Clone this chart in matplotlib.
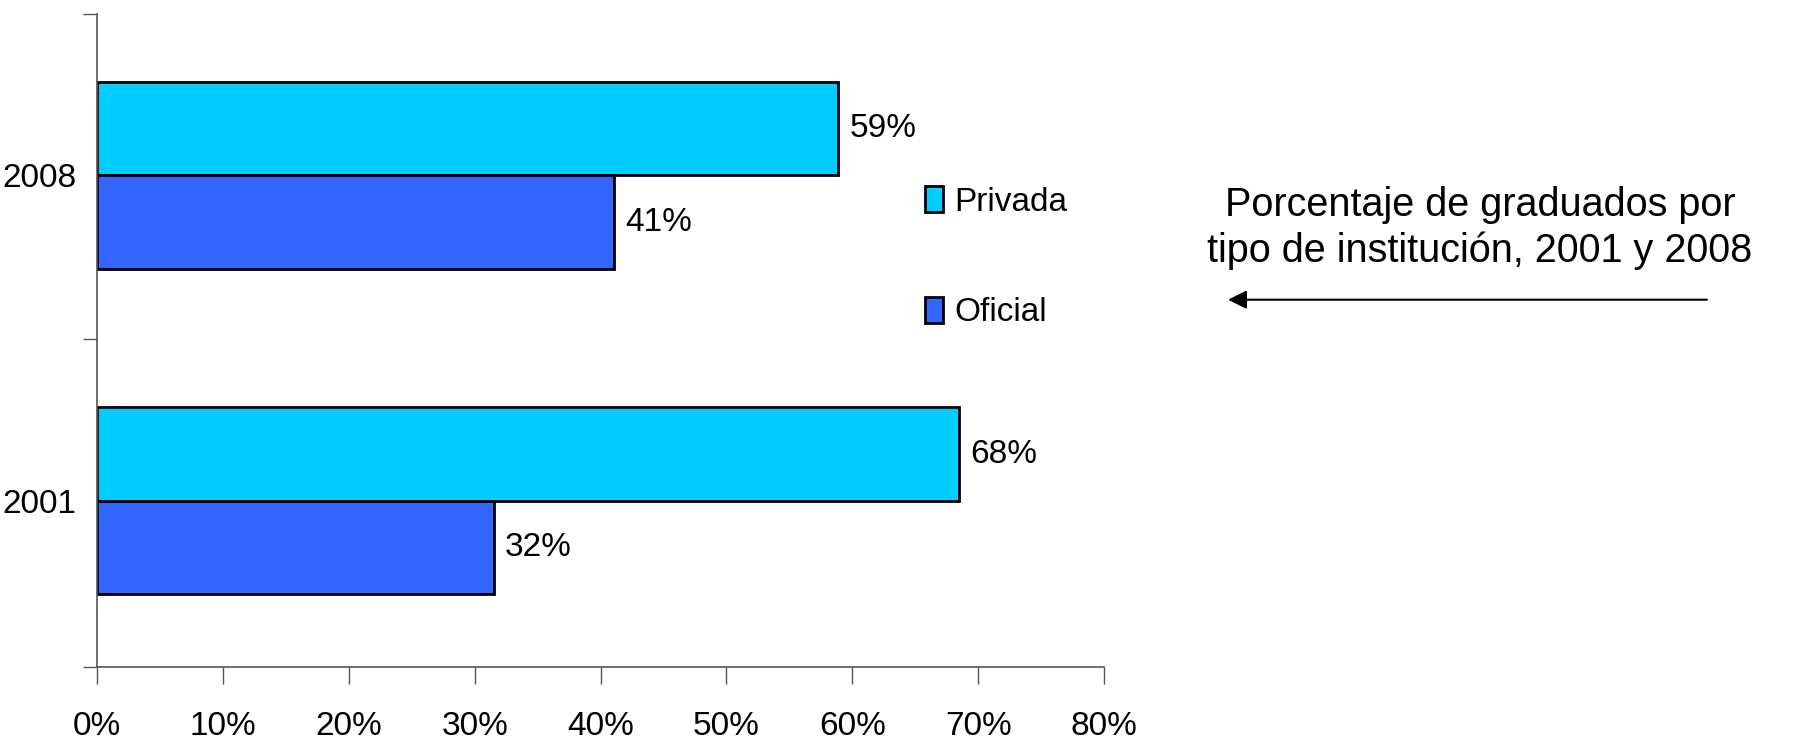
import matplotlib
matplotlib.use("Agg")
import matplotlib.pyplot as plt
from matplotlib.patches import Patch, FancyArrowPatch

anios = ["2001", "2008"]
privada = [68.5, 58.9]
oficial = [31.5, 41.1]
etiq_privada = ["68%", "59%"]
etiq_oficial = ["32%", "41%"]
ticks_x = [0, 10, 20, 30, 40, 50, 60, 70, 80]

fuente = ["Liberation Sans", "DejaVu Sans"]
col_priv = "#00CCFF"
col_ofi = "#3366FF"

fig = plt.figure(figsize=(17.94, 7.40), dpi=100)
ax = fig.add_axes([0.0541, 0.0986, 0.5613, 0.8824])

alto = 0.287
pos = [0, 1]
pos_priv = [p + alto / 2 for p in pos]
pos_ofi = [p - alto / 2 for p in pos]
ax.barh(pos_priv, privada, height=alto, color=col_priv, edgecolor="black", linewidth=2)
ax.barh(pos_ofi, oficial, height=alto, color=col_ofi, edgecolor="black", linewidth=2)

for y, v, t in zip(pos_priv, privada, etiq_privada):
    ax.text(v + 0.9, y, t, va="center", ha="left", fontsize=24, family=fuente)
for y, v, t in zip(pos_ofi, oficial, etiq_oficial):
    ax.text(v + 0.9, y, t, va="center", ha="left", fontsize=24, family=fuente)

ax.set_xlim(0, 80)
ax.set_ylim(-0.51, 1.495)
ax.set_xticks(ticks_x)
ax.set_xticklabels([f"{t}%" for t in ticks_x], family=fuente, fontsize=24)
ax.tick_params(axis="x", length=12, width=1, pad=20, colors="#555555", labelcolor="black")

ax.set_yticks([-0.51, 0.497, 1.495])
ax.set_yticklabels([])
ax.set_yticks(pos, minor=True)
ax.set_yticklabels(anios, minor=True, family=fuente, fontsize=24)
ax.tick_params(axis="y", which="major", length=10, width=1, colors="#555555")
ax.tick_params(axis="y", which="minor", length=0, pad=15)

for s in ["top", "right"]:
    ax.spines[s].set_visible(False)
for s in ["left", "bottom"]:
    ax.spines[s].set_color("#555555")
    ax.spines[s].set_linewidth(1.2)

handles = [Patch(facecolor=col_priv, edgecolor="black", linewidth=2, label="Privada"),
           Patch(facecolor=col_ofi, edgecolor="black", linewidth=2, label="Oficial")]
fig.legend(handles=handles, loc="upper left", bbox_to_anchor=(0.508, 0.766),
           frameon=False, prop={"family": fuente, "size": 24},
           handlelength=0.55, handleheight=0.8, handletextpad=0.35, labelspacing=2.38,
           borderaxespad=0)

fig.text(0.825, 0.692, "Porcentaje de graduados por\ntipo de institución, 2001 y 2008",
         ha="center", va="center", fontsize=28.5, family=fuente, linespacing=1.25)
fig.patches.append(FancyArrowPatch(
    (0.953, 0.595), (0.683, 0.595), transform=fig.transFigure,
    arrowstyle="-|>", mutation_scale=28, color="black", linewidth=1.5))

fig.savefig("out.png", dpi=100)
